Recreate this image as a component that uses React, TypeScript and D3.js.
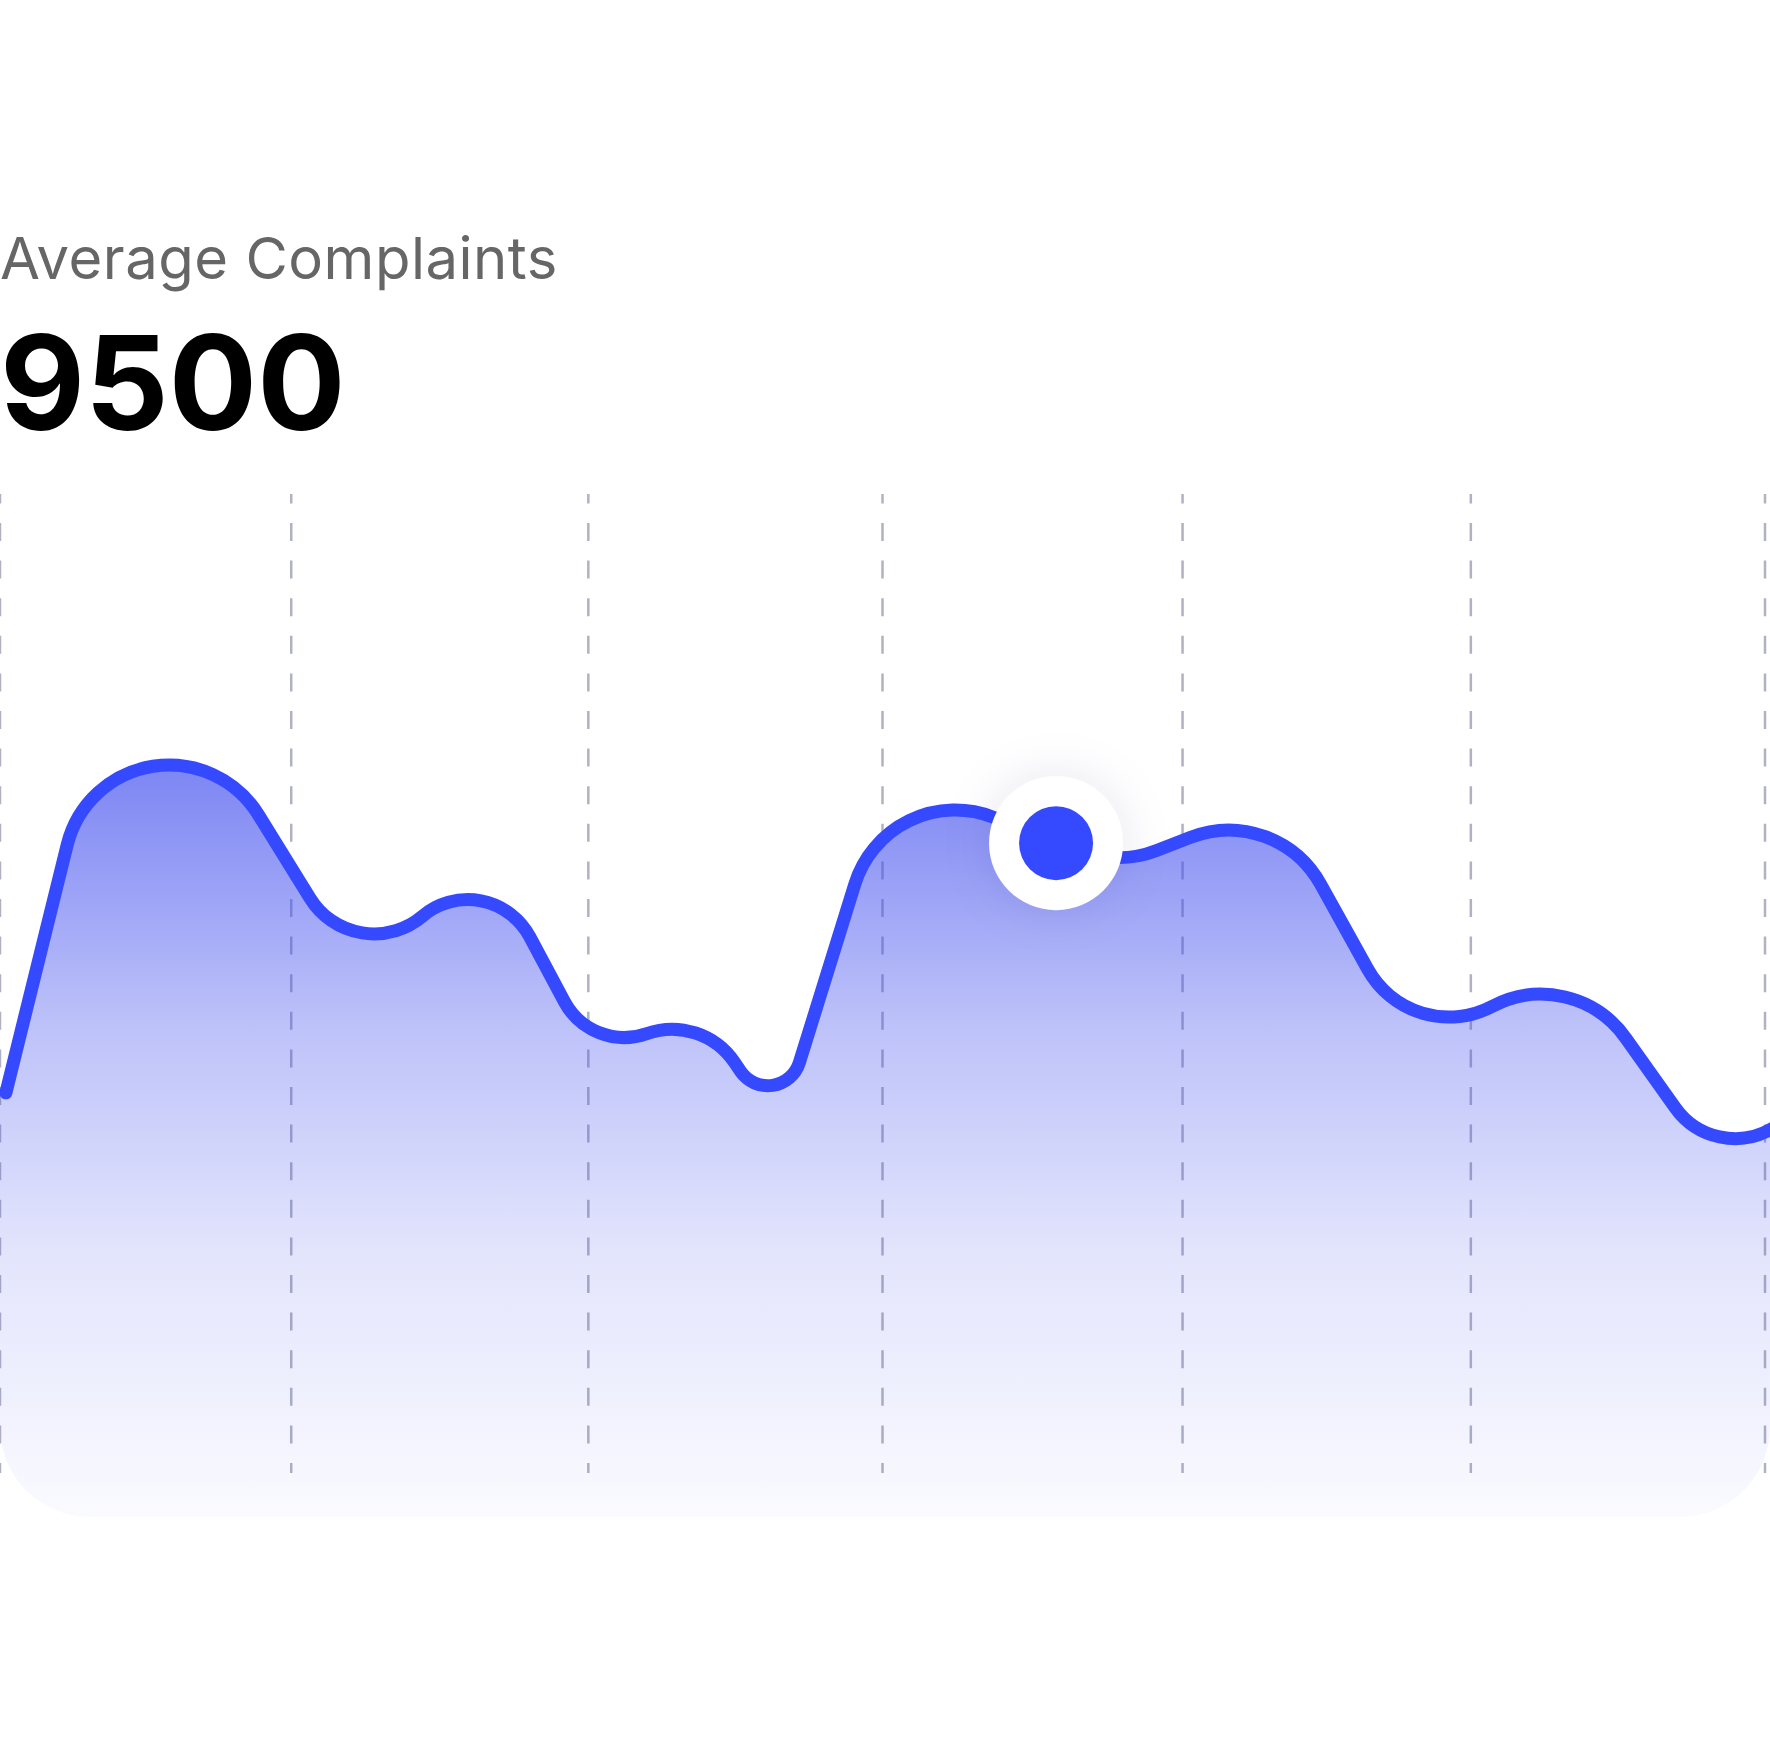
import React, { useEffect, useRef } from 'react';
import * as d3 from 'd3';

const WIDTH = 1770;
const HEIGHT = 1740;

// vertices of the series (x in days, y in complaints)
const pointX = [0.2, 4.32, 12.1, 16.62, 20.12, 23.86, 26.48, 30.19, 38.04, 43.38, 48.0, 53.47, 58.27, 62.21];
const pointY = [5980, 12890, 7680, 9260, 6540, 7090, 5480, 10430, 9190, 10050, 6600, 7800, 5000, 5950];
const gridX = [0, 9.9, 20, 30, 40.2, 50, 60];
const highlightX = 35.9;
const highlightY = 9500;
const title = 'Average Complaints';
const headline = '9500';

const BLUE = '#3549ff';

// polyline with rounded joints (greedy tangent lengths)
function roundedLine(pts: [number, number][], R: number) {
  const n = pts.length;
  const len = (a: [number, number], b: [number, number]) => Math.hypot(b[0] - a[0], b[1] - a[1]);
  const half: number[] = pts.map(() => 0);
  const want: number[] = pts.map(() => 0);
  for (let i = 1; i < n - 1; i++) {
    const [x0, y0] = pts[i - 1], [x1, y1] = pts[i], [x2, y2] = pts[i + 1];
    const l1 = len(pts[i - 1], pts[i]), l2 = len(pts[i], pts[i + 1]);
    const c = ((x0 - x1) * (x2 - x1) + (y0 - y1) * (y2 - y1)) / (l1 * l2);
    half[i] = Math.acos(Math.max(-1, Math.min(1, c))) / 2;
    want[i] = R / Math.tan(half[i]);
  }
  const p = d3.path();
  p.moveTo(pts[0][0], pts[0][1]);
  for (let i = 1; i < n - 1; i++) {
    const l1 = len(pts[i - 1], pts[i]), l2 = len(pts[i], pts[i + 1]);
    const a = i === 1 ? l1 / 2 : Math.max(l1 / 2, l1 - want[i - 1]);
    const b = i === n - 2 ? l2 / 2 : Math.max(l2 / 2, l2 - want[i + 1]);
    const t = Math.min(want[i], a, b);
    p.arcTo(pts[i][0], pts[i][1], pts[i + 1][0], pts[i + 1][1], t * Math.tan(half[i]));
  }
  p.lineTo(pts[n - 1][0], pts[n - 1][1]);
  return p.toString();
}

const App: React.FC = () => {
  const svgRef = useRef<SVGSVGElement>(null);

  useEffect(() => {
    if (!svgRef.current) return;
    const svg = d3.select(svgRef.current);
    svg.selectAll('*').remove();

    const bottom = 1517;
    const x = d3.scaleLinear().domain([0, 60]).range([0, 1765]);
    const y = d3.scaleLinear().domain([0, 15000]).range([bottom, 453]);

    const defs = svg.append('defs');
    const grad = defs.append('linearGradient')
      .attr('id', 'areaFill')
      .attr('gradientUnits', 'userSpaceOnUse')
      .attr('x1', 0).attr('x2', 0)
      .attr('y1', 756).attr('y2', bottom);
    [[0, 0.7], [0.35, 0.35], [0.65, 0.15], [1, 0.025]].forEach(([o, a]) => {
      grad.append('stop').attr('offset', o).attr('stop-color', 'rgb(65,78,238)').attr('stop-opacity', a);
    });

    defs.append('clipPath').attr('id', 'card')
      .append('rect')
      .attr('x', 0).attr('y', 0)
      .attr('width', WIDTH).attr('height', bottom)
      .attr('rx', 90).attr('ry', 90);

    const shadow = defs.append('filter').attr('id', 'glow')
      .attr('x', '-100%').attr('y', '-100%').attr('width', '300%').attr('height', '300%');
    shadow.append('feDropShadow')
      .attr('dx', 0).attr('dy', 0)
      .attr('stdDeviation', 24)
      .attr('flood-color', '#1c2270')
      .attr('flood-opacity', 0.1);

    // header
    svg.append('text')
      .attr('x', 0).attr('y', 279)
      .attr('font-family', 'Inter, "Noto Sans", sans-serif')
      .attr('font-size', 58)
      .attr('letter-spacing', 0.5)
      .attr('fill', '#666666')
      .text(title);

    svg.append('text')
      .attr('x', 0).attr('y', 430)
      .attr('font-family', 'Inter, "Noto Sans", sans-serif')
      .attr('font-size', 131)
      .attr('font-weight', 700)
      .attr('fill', '#000000')
      .text(headline);

    // dashed verticals
    svg.append('g')
      .selectAll('line')
      .data(gridX)
      .join('line')
      .attr('x1', d => x(d)).attr('x2', d => x(d))
      .attr('y1', 494).attr('y2', 1473)
      .attr('stroke', '#b0b2c2')
      .attr('stroke-width', 2.5)
      .attr('stroke-dasharray', '18 19.6')
      .attr('stroke-dashoffset', 8.6);

    const pts: [number, number][] = pointX.map((d, i) => [x(d), y(pointY[i])]);
    const linePath = roundedLine(pts, 105);
    const first = pts[0];
    const last = pts[pts.length - 1];
    const areaPath = `M0,${bottom}L0,${first[1]}L${linePath.slice(1)}L${last[0]},${bottom}Z`;

    svg.append('path')
      .attr('d', areaPath)
      .attr('fill', 'url(#areaFill)')
      .attr('clip-path', 'url(#card)');

    svg.append('path')
      .attr('d', linePath)
      .attr('fill', 'none')
      .attr('stroke', BLUE)
      .attr('stroke-width', 13)
      .attr('stroke-linecap', 'round')
      .attr('stroke-linejoin', 'round');

    // highlighted point
    const marker = svg.append('g')
      .attr('transform', `translate(${x(highlightX)},${y(highlightY)})`);
    marker.append('circle')
      .attr('r', 67)
      .attr('fill', '#ffffff')
      .attr('filter', 'url(#glow)');
    marker.append('circle')
      .attr('r', 37)
      .attr('fill', BLUE);
  }, []);

  return (
    <svg
      ref={svgRef}
      width={WIDTH}
      height={HEIGHT}
      style={{ position: 'absolute', left: 0, top: 0, display: 'block', background: '#ffffff' }}
    />
  );
};

export default App;
